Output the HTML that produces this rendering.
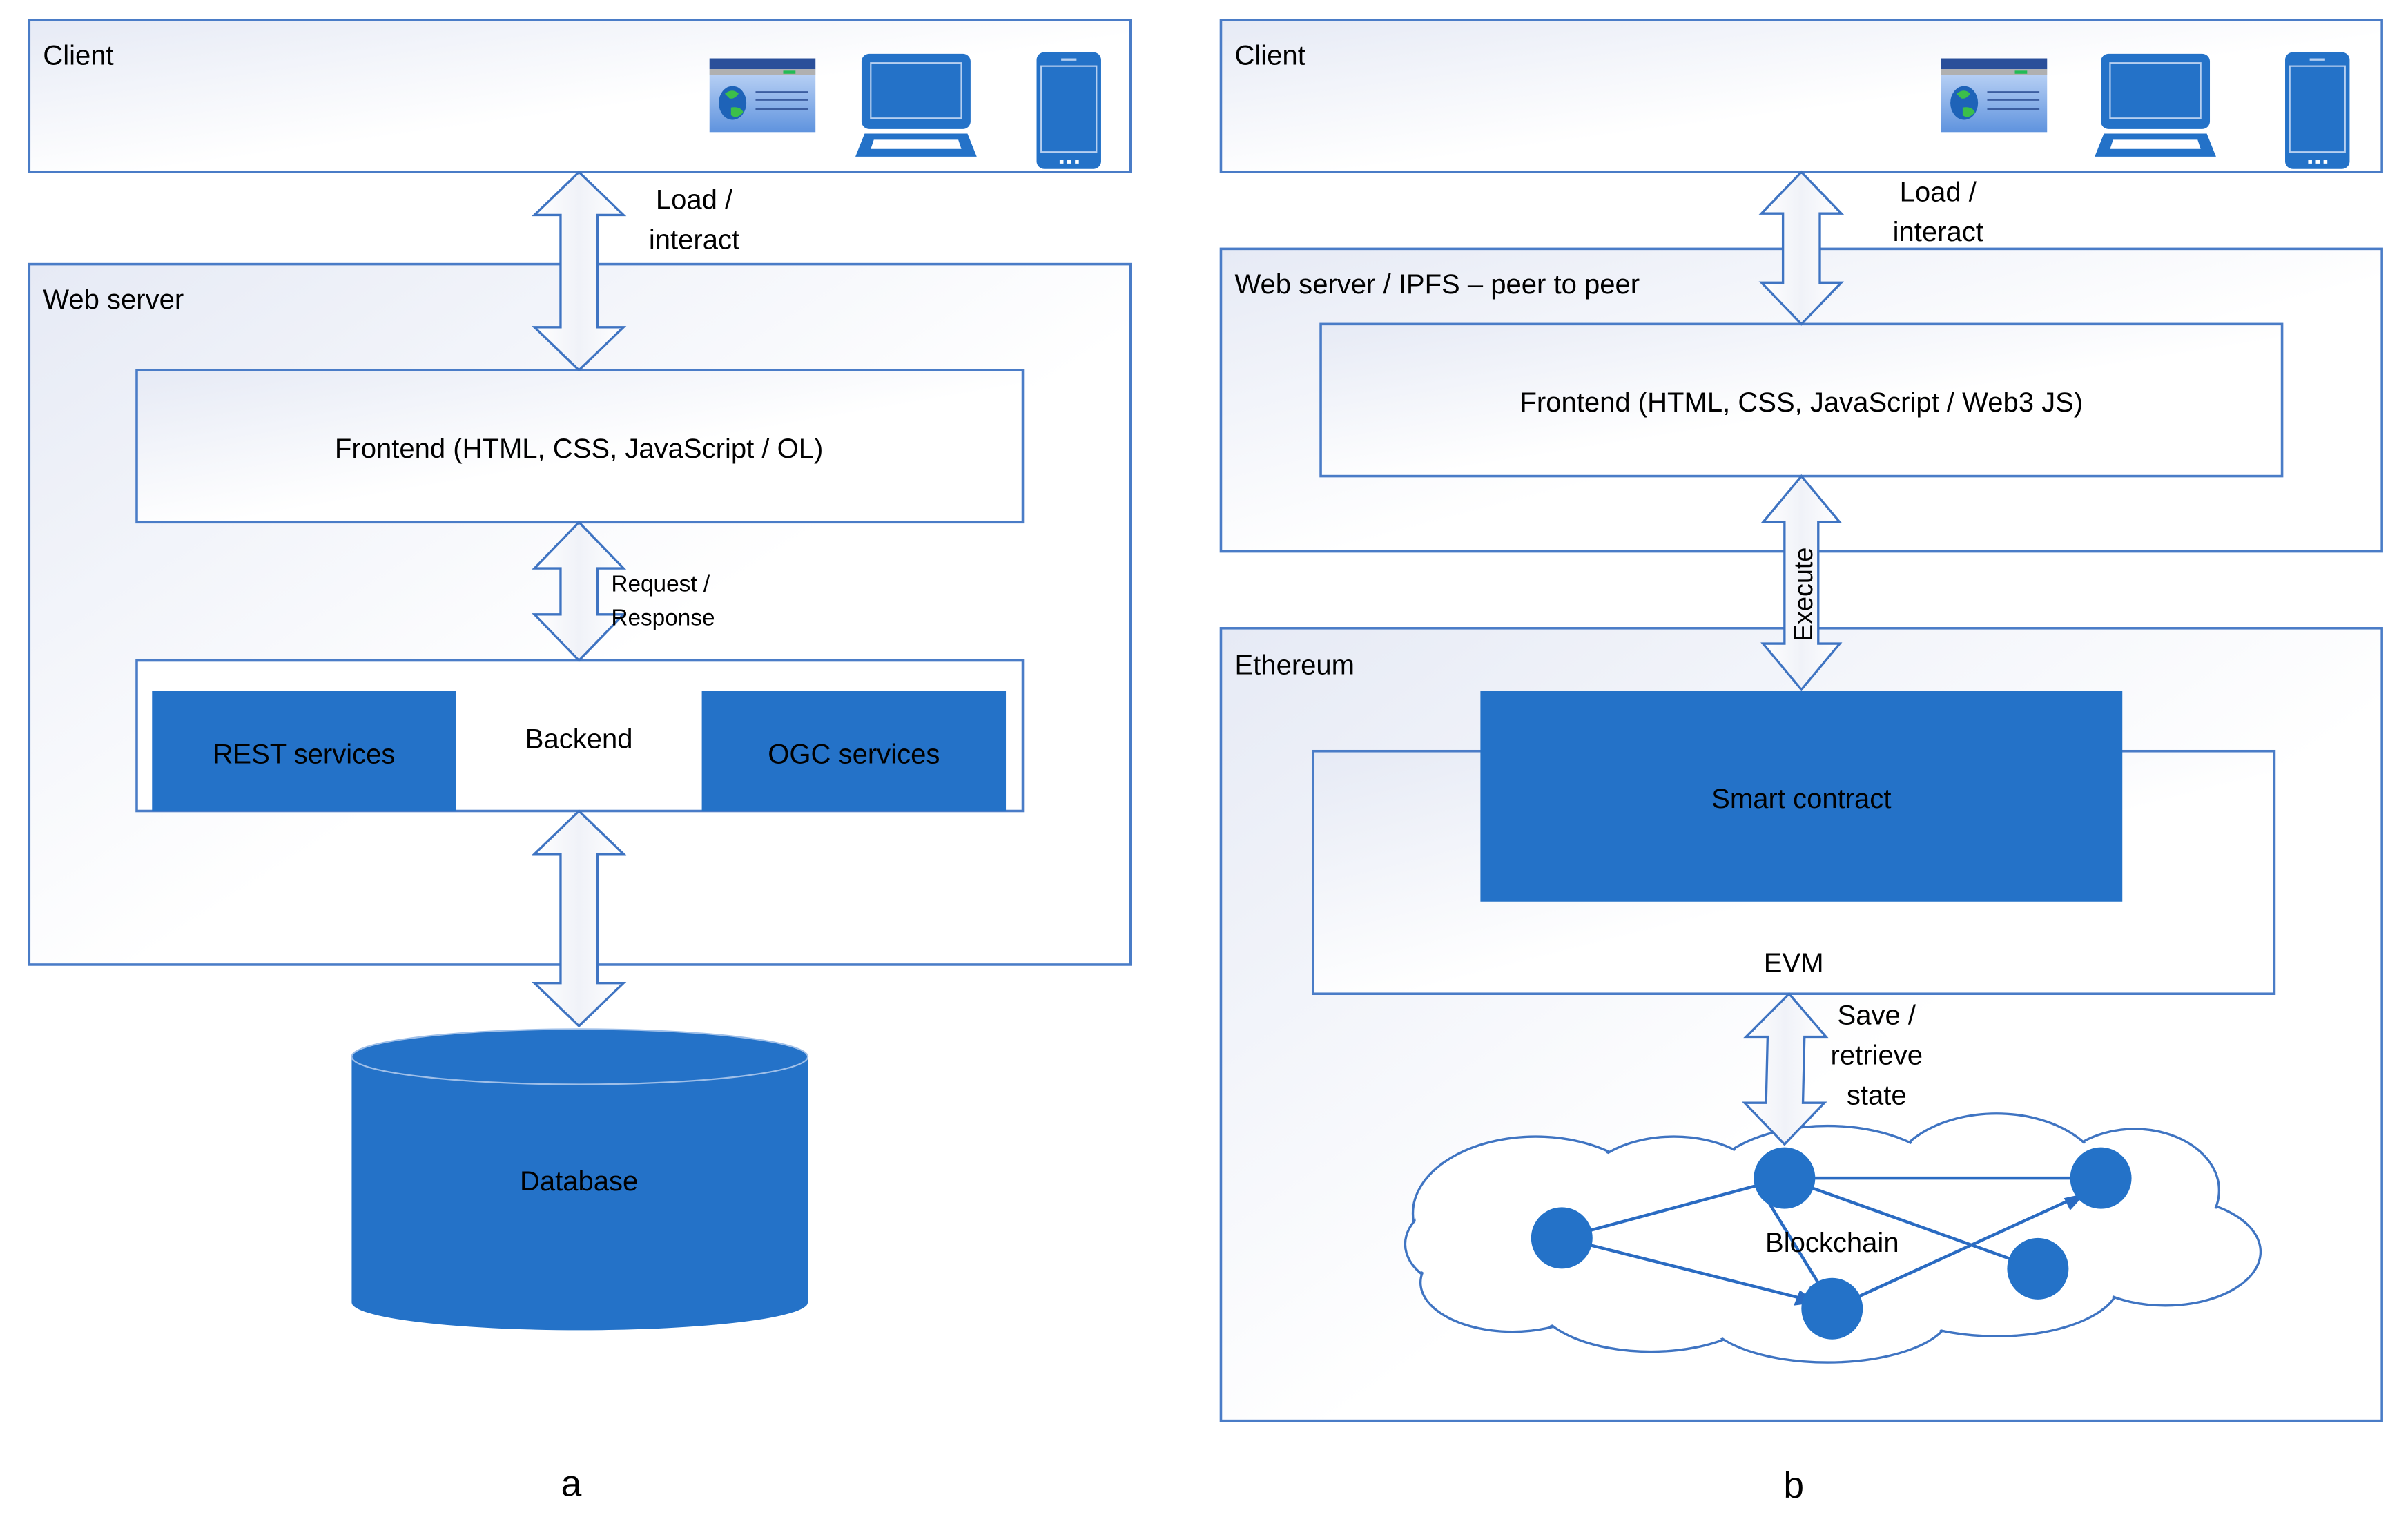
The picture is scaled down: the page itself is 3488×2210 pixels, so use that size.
<!DOCTYPE html>
<html><head><meta charset="utf-8"><style>
html,body{margin:0;padding:0;background:#fff;}
svg{display:block;}
text{font-family:"Liberation Sans",sans-serif;fill:#000;}
</style></head><body>
<svg width="3488" height="2210" viewBox="0 0 1568 993.5" xmlns="http://www.w3.org/2000/svg">
<defs>
<linearGradient id="bg" x1="0" y1="0" x2="1" y2="1">
<stop offset="0" stop-color="#e6eaf5"/><stop offset="0.55" stop-color="#ffffff"/><stop offset="1" stop-color="#ffffff"/>
</linearGradient>
<linearGradient id="ar" x1="0" y1="0" x2="1" y2="0">
<stop offset="0" stop-color="#ffffff"/><stop offset="0.5" stop-color="#f0f2f8"/><stop offset="1" stop-color="#ffffff"/>
</linearGradient>
<linearGradient id="br" x1="0" y1="0" x2="0" y2="1">
<stop offset="0" stop-color="#cfe0fa"/><stop offset="1" stop-color="#5f93de"/>
</linearGradient>
<g id="browser">
<rect x="0" y="4" width="69" height="48" fill="url(#br)"/>
<rect x="0" y="4" width="69" height="7" fill="#2a4f9a"/>
<rect x="0" y="11" width="69" height="4" fill="#b0b0b0"/>
<rect x="48" y="12" width="8" height="2" fill="#22bb55"/>
<ellipse cx="15" cy="33" rx="9" ry="11" fill="#1e63b8"/>
<path d="M10 27 q5 -4 9 0 q-3 4 -6 3 z M14 36 q6 -1 8 3 q-4 5 -8 2 z" fill="#3cbf4a"/>
<g stroke="#3b5da0" stroke-width="1.2"><line x1="30" y1="26" x2="64" y2="26"/><line x1="30" y1="31" x2="64" y2="31"/><line x1="30" y1="37" x2="64" y2="37"/></g>
</g>
<g id="laptop">
<rect x="4" y="0" width="71" height="49" rx="5" fill="#2472c8"/>
<rect x="10" y="6" width="59" height="36" fill="none" stroke="#b6cff0" stroke-width="1"/>
<path d="M6 52 L73 52 L79 67 L0 67 Z" fill="#2472c8"/>
<path d="M12 56 L67 56 L69 62 L10 62 Z" fill="#fff"/>
</g>
<g id="phone">
<rect x="0" y="0" width="42" height="76" rx="5" fill="#2472c8"/>
<rect x="3" y="9" width="36" height="56" fill="none" stroke="#b6cff0" stroke-width="1"/>
<rect x="16" y="4" width="10" height="1.5" fill="#b6cff0"/>
<rect x="15" y="70" width="2.5" height="2.5" fill="#fff"/><rect x="20" y="70" width="2.5" height="2.5" fill="#fff"/><rect x="25" y="70" width="2.5" height="2.5" fill="#fff"/>
</g>
</defs>

<g stroke="#4a7cc7" stroke-width="1.6">
<rect x="19" y="13" width="717" height="99" fill="url(#bg)"/>
<rect x="19" y="172" width="717" height="456" fill="url(#bg)"/>
<rect x="89" y="241" width="577" height="99" fill="url(#bg)"/>
<rect x="89" y="430" width="577" height="98" fill="#fff"/>
<rect x="795" y="13" width="756" height="99" fill="url(#bg)"/>
<rect x="795" y="162" width="756" height="197" fill="url(#bg)"/>
<rect x="860" y="211" width="626" height="99" fill="url(#bg)"/>
<rect x="795" y="409" width="756" height="516" fill="url(#bg)"/>
<rect x="855" y="489" width="626" height="158" fill="url(#bg)"/>
</g>
<rect x="99" y="450" width="198" height="78" fill="#2472c8"/>
<rect x="457" y="450" width="198" height="78" fill="#2472c8"/>
<rect x="964" y="450" width="418" height="137" fill="#2472c8"/>

<path d="M229 688 L229 848 A148.5 18 0 0 0 526 848 L526 688 Z" fill="#2472c8"/>
<ellipse cx="377.5" cy="688" rx="148.5" ry="18" fill="#2472c8" stroke="#9fbfe8" stroke-width="1"/>

<!-- cloud -->
<g fill="#fff" stroke="#3f74c2" stroke-width="1.5">
<ellipse cx="1000" cy="790" rx="80" ry="50"/>
<ellipse cx="960" cy="810" rx="45" ry="30"/>
<ellipse cx="985" cy="835" rx="60" ry="32"/>
<ellipse cx="1075" cy="845" rx="75" ry="35"/>
<ellipse cx="1190" cy="855" rx="80" ry="32"/>
<ellipse cx="1300" cy="835" rx="80" ry="35"/>
<ellipse cx="1410" cy="815" rx="62" ry="35"/>
<ellipse cx="1390" cy="775" rx="55" ry="40"/>
<ellipse cx="1300" cy="770" rx="70" ry="45"/>
<ellipse cx="1190" cy="775" rx="80" ry="42"/>
<ellipse cx="1090" cy="775" rx="60" ry="35"/>
</g>
<g fill="#fff">
<ellipse cx="1000" cy="790" rx="78.5" ry="48.5"/>
<ellipse cx="960" cy="810" rx="43.5" ry="28.5"/>
<ellipse cx="985" cy="835" rx="58.5" ry="30.5"/>
<ellipse cx="1075" cy="845" rx="73.5" ry="33.5"/>
<ellipse cx="1190" cy="855" rx="78.5" ry="30.5"/>
<ellipse cx="1300" cy="835" rx="78.5" ry="33.5"/>
<ellipse cx="1410" cy="815" rx="60.5" ry="33.5"/>
<ellipse cx="1390" cy="775" rx="53.5" ry="38.5"/>
<ellipse cx="1300" cy="770" rx="68.5" ry="43.5"/>
<ellipse cx="1190" cy="775" rx="78.5" ry="40.5"/>
<ellipse cx="1090" cy="775" rx="58.5" ry="33.5"/>
<ellipse cx="1190" cy="810" rx="220" ry="42"/>
</g>

<!-- graph -->
<g stroke="#2a6bc2" stroke-width="2" fill="none">
<line x1="1017" y1="806" x2="1162" y2="767"/>
<line x1="1017" y1="806" x2="1180" y2="847"/>
<line x1="1162" y1="767" x2="1368" y2="767"/>
<line x1="1162" y1="767" x2="1327" y2="826"/>
<line x1="1150" y1="780" x2="1190" y2="845"/>
<line x1="1193" y1="852" x2="1355" y2="778"/>
</g>
<g fill="#2a6bc2">
<polygon points="1183,848 1168,850 1172,840"/>
<polygon points="1190,846 1178,838 1185,834"/>
<polygon points="1358,777 1348,788 1344,780"/>
</g>
<g fill="#2472c8">
<circle cx="1017" cy="806" r="20"/>
<circle cx="1162" cy="767" r="20"/>
<circle cx="1368" cy="767" r="20"/>
<circle cx="1327" cy="826" r="20"/>
<circle cx="1193" cy="852" r="20"/>
</g>

<!-- arrows -->
<g fill="url(#ar)" stroke="#3f74c2" stroke-width="1.5">
<polygon points="377,112 406,140 389,140 389,213 406,213 377,241 348,213 365,213 365,140 348,140"/>
<polygon points="377,340 406,370 389,370 389,400 406,400 377,430 348,400 365,400 365,370 348,370"/>
<polygon points="377,528 406,556 389,556 389,640 406,640 377,668 348,640 365,640 365,556 348,556"/>
<polygon points="1173,112 1199,139 1185,139 1185,184 1199,184 1173,211 1147,184 1161,184 1161,139 1147,139"/>
<polygon points="1173,310 1198,340 1184,340 1184,419 1198,419 1173,449 1148,419 1162,419 1162,340 1148,340"/>
<polygon points="1165,647 1189,675 1175,675 1174,718 1188,718 1162,745 1136,718 1150,718 1151,675 1137,675"/>
</g>

<use href="#browser" x="462" y="34"/>
<use href="#laptop" x="557" y="35"/>
<use href="#phone" x="675" y="34"/>
<use href="#browser" x="1264" y="34"/>
<use href="#laptop" x="1364" y="35"/>
<use href="#phone" x="1488" y="34"/>

<g font-size="18">
<text x="28" y="42">Client</text>
<text x="28" y="201">Web server</text>
<text x="377" y="298" text-anchor="middle">Frontend (HTML, CSS, JavaScript / OL)</text>
<text x="377" y="487" text-anchor="middle">Backend</text>
<text x="198" y="497" text-anchor="middle">REST services</text>
<text x="556" y="497" text-anchor="middle">OGC services</text>
<text x="377" y="775" text-anchor="middle">Database</text>
<text x="452" y="136" text-anchor="middle">Load /</text>
<text x="452" y="162" text-anchor="middle">interact</text>
<text x="804" y="42">Client</text>
<text x="804" y="191">Web server / IPFS – peer to peer</text>
<text x="1173" y="268" text-anchor="middle">Frontend (HTML, CSS, JavaScript / Web3 JS)</text>
<text x="1262" y="131" text-anchor="middle">Load /</text>
<text x="1262" y="157" text-anchor="middle">interact</text>
<text x="804" y="439">Ethereum</text>
<text x="1173" y="526" text-anchor="middle">Smart contract</text>
<text x="1168" y="633" text-anchor="middle">EVM</text>
<text x="1222" y="667" text-anchor="middle">Save /</text>
<text x="1222" y="693" text-anchor="middle">retrieve</text>
<text x="1222" y="719" text-anchor="middle">state</text>
<text x="1193" y="815" text-anchor="middle">Blockchain</text>
<text x="1173" y="380" text-anchor="middle" transform="rotate(-90 1180 380)" font-size="17">Execute</text>
</g>
<g font-size="15">
<text x="398" y="385">Request /</text>
<text x="398" y="407">Response</text>
</g>
<g font-size="24">
<text x="372" y="974" text-anchor="middle">a</text>
<text x="1168" y="975" text-anchor="middle">b</text>
</g>
</svg>
</body></html>
